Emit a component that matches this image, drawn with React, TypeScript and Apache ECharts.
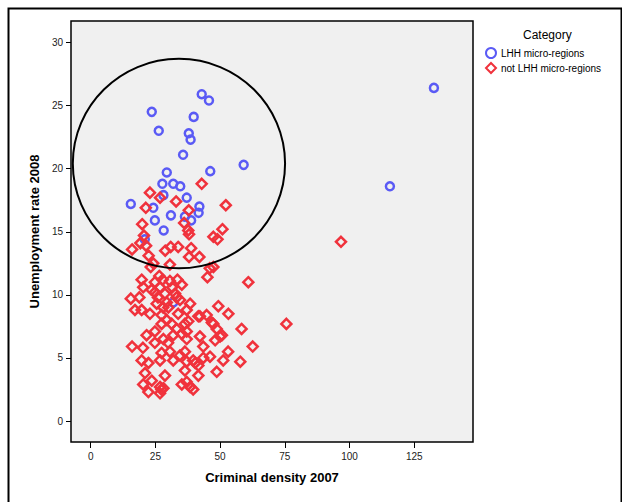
import React, { useEffect, useRef } from "react";
import * as echarts from "echarts";

const xTicks = [0, 25, 50, 75, 100, 125];
const yTicks = [0, 5, 10, 15, 20, 25, 30];

const seriesNames = ["LHH micro-regions", "not LHH micro-regions"];

const lhhPoints: number[][] = [
  [132.6, 26.4], [115.6, 18.6], [59.1, 20.3], [42.9, 25.9], [45.7, 25.4],
  [23.6, 24.5], [39.8, 24.1], [26.3, 23.0], [37.9, 22.8], [38.6, 22.3],
  [35.7, 21.1], [46.2, 19.8], [29.4, 19.7], [27.7, 18.8], [31.9, 18.8],
  [34.6, 18.6], [28.1, 17.9], [37.1, 17.7], [15.5, 17.2], [24.2, 16.9],
  [42.0, 17.0], [41.7, 16.5], [31.0, 16.3], [36.4, 16.2], [38.8, 15.9],
  [24.8, 15.9], [28.2, 15.1], [20.9, 14.4], [31.9, 9.4],
];

const notLhhPoints: number[][] = [
  [42.9, 18.8], [22.9, 18.1], [26.8, 17.7], [21.3, 16.9], [33.0, 17.4], [37.9, 16.7], [52.2, 17.1],
  [19.9, 15.6], [36.1, 15.7], [37.7, 15.1], [38.0, 14.8], [50.9, 15.2], [47.4, 14.6], [49.0, 14.4],
  [20.6, 14.7], [19.2, 14.1], [21.4, 13.9], [16.0, 13.6], [28.8, 13.5], [30.9, 13.8], [33.8, 13.8], [38.8, 13.7],
  [22.4, 13.1], [42.0, 13.0], [38.0, 13.0], [24.2, 12.5], [30.6, 12.4], [47.4, 12.2], [23.2, 12.2], [46.0, 12.1],
  [45.1, 11.4], [33.5, 11.2], [35.2, 10.8], [19.7, 11.2], [20.3, 10.6], [24.8, 11.0], [27.8, 11.2], [30.6, 11.1], [60.9, 11.0],
  [15.5, 9.7], [18.8, 9.8], [24.8, 10.2], [26.8, 10.6], [28.7, 10.1], [32.6, 10.1], [33.2, 9.8], [29.4, 9.4],
  [30.0, 9.0], [25.5, 9.3], [38.4, 9.3], [37.1, 8.8], [33.8, 8.5], [17.1, 8.8], [19.7, 8.8], [22.9, 8.5],
  [27.4, 8.4], [29.4, 8.0], [27.4, 7.7], [31.3, 7.7], [33.2, 7.3], [36.4, 7.7], [41.6, 8.3], [44.8, 8.4],
  [42.2, 8.3], [47.4, 7.7], [49.3, 9.1], [53.2, 8.5], [58.3, 7.3], [48.7, 7.3], [37.1, 7.1], [42.2, 6.7],
  [21.6, 6.8], [24.8, 7.1], [31.9, 6.8], [37.7, 7.9], [46.8, 7.8], [75.6, 7.7],
  [26.0, 9.8], [31.5, 10.6], [28.0, 9.0], [34.5, 9.6], [26.5, 11.5], [23.5, 10.4],
  [16.0, 5.9], [24.8, 6.2], [28.1, 6.5], [35.2, 6.9], [37.1, 6.5], [50.0, 6.7], [48.1, 6.4], [50.7, 6.8],
  [62.6, 5.9], [53.1, 5.5], [51.2, 4.8], [57.8, 4.7], [19.7, 4.8], [22.3, 4.6], [26.8, 4.8], [27.4, 5.4],
  [30.6, 5.5], [31.9, 4.8], [34.5, 5.2], [36.4, 5.5], [37.1, 4.7], [39.6, 4.8], [41.6, 4.4], [43.5, 5.9],
  [46.1, 5.1], [43.5, 5.0], [20.2, 5.8], [29.9, 6.2], [40.4, 4.6],
  [36.4, 4.0], [41.6, 3.6], [48.7, 3.9], [21.0, 3.8], [28.7, 3.6], [23.6, 3.2], [20.3, 2.9], [26.8, 2.7],
  [28.1, 2.6], [22.3, 2.3], [26.8, 2.2], [27.3, 2.5], [37.1, 3.1], [38.4, 2.7], [39.6, 2.5], [35.2, 2.9],
  [96.7, 14.2],
];

// annotation ellipse in data units: center x, center y, radius x, radius y
const ellipseData = [34.1, 20.4, 41.0, 8.3];

const FONT = "'Liberation Sans', Arial, sans-serif";
const BLUE = "#5a5af5";
const RED = "#f0323c";

export default function App() {
  const ref = useRef<HTMLDivElement>(null);

  useEffect(() => {
    if (!ref.current) return;
    const chart = echarts.init(ref.current, undefined, { renderer: "svg" });
    const option: any = {
      animation: false,
      backgroundColor: "#ffffff",
      textStyle: { fontFamily: FONT },
      title: {
        text: "Category",
        left: 518,
        top: 24,
        textStyle: { fontFamily: FONT, fontSize: 12, fontWeight: "normal", color: "#000" },
      },
      legend: {
        orient: "vertical",
        left: 480,
        top: 42,
        itemWidth: 10,
        itemHeight: 10,
        itemGap: 3,
        textStyle: { fontFamily: FONT, fontSize: 10, color: "#000" },
        data: seriesNames,
      },
      grid: {
        left: 71,
        top: 21,
        width: 402,
        height: 421,
        show: true,
        backgroundColor: "#f0f0f0",
        borderColor: "#000",
        borderWidth: 1.5,
        containLabel: false,
      },
      xAxis: {
        type: "value",
        min: -7.6,
        max: 147.7,
        name: "Criminal density 2007",
        nameLocation: "middle",
        nameGap: 29,
        nameTextStyle: { fontFamily: FONT, fontSize: 13, fontWeight: "bold", color: "#000" },
        axisLine: { show: false, onZero: false },
        axisTick: { show: true, length: 6, customValues: xTicks, lineStyle: { color: "#000", width: 1 } },
        axisLabel: { customValues: xTicks, fontSize: 10, color: "#222", margin: 9, fontFamily: FONT },
        splitLine: { show: false },
      },
      yAxis: {
        type: "value",
        min: -1.66,
        max: 31.7,
        name: "Unemployment rate 2008",
        nameLocation: "middle",
        nameGap: 25,
        nameTextStyle: { fontFamily: FONT, fontSize: 13, fontWeight: "bold", color: "#000" },
        axisLine: { show: false, onZero: false },
        axisTick: { show: true, length: 5, customValues: yTicks, lineStyle: { color: "#000", width: 1 } },
        axisLabel: { customValues: yTicks, fontSize: 10, color: "#222", margin: 8, fontFamily: FONT },
        splitLine: { show: false },
      },
      series: [
        {
          name: seriesNames[0],
          type: "scatter",
          symbol: "circle",
          symbolSize: 8,
          data: lhhPoints,
          itemStyle: { color: "rgba(0,0,0,0)", borderColor: BLUE, borderWidth: 2.5, opacity: 1 },
          z: 3,
        },
        {
          name: seriesNames[1],
          type: "scatter",
          symbol: "diamond",
          symbolSize: 10,
          data: notLhhPoints,
          itemStyle: { color: "rgba(0,0,0,0)", borderColor: RED, borderWidth: 2.5, opacity: 1 },
          z: 4,
        },
      ],
    };
    chart.setOption(option);

    const [cx, cy, rx, ry] = ellipseData;
    const c = chart.convertToPixel({ gridIndex: 0 }, [cx, cy]) as number[];
    const px = chart.convertToPixel({ gridIndex: 0 }, [cx + rx, cy]) as number[];
    const py = chart.convertToPixel({ gridIndex: 0 }, [cx, cy + ry]) as number[];
    chart.setOption({
      graphic: [
        {
          type: "rect",
          left: 6,
          top: 6,
          shape: { x: 0, y: 0, width: 613, height: 520 },
          style: { fill: "none", stroke: "#000", lineWidth: 2 },
          silent: true,
          z: 0,
        },
        {
          type: "ellipse",
          shape: { cx: c[0], cy: c[1], rx: Math.abs(px[0] - c[0]), ry: Math.abs(c[1] - py[1]) },
          style: { fill: "none", stroke: "#000", lineWidth: 2 },
          silent: true,
          z: 10,
        },
      ],
    });

    return () => chart.dispose();
  }, []);

  return (
    <div
      ref={ref}
      style={{ position: "absolute", left: 0, top: 0, width: 622, height: 502, background: "#fff" }}
    />
  );
}
